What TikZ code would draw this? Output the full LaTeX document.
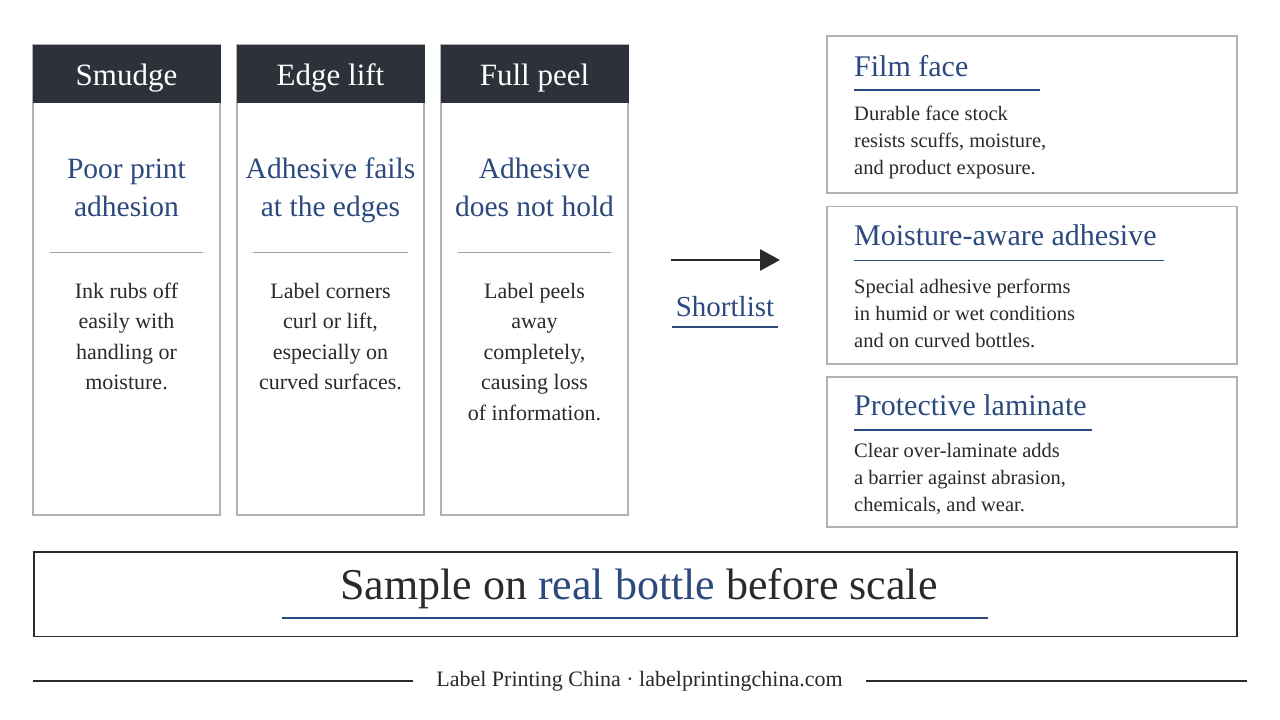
\documentclass[tikz,border=0pt]{standalone}
\usepackage{fontspec}
\setmainfont{Liberation Serif}
\usetikzlibrary{arrows.meta}
\definecolor{ink}{HTML}{2A2A2A}
\definecolor{navy}{HTML}{2C4A7E}
\definecolor{hdrfill}{HTML}{2D3139}
\definecolor{boxgray}{HTML}{B2B2B2}
\definecolor{sepgray}{HTML}{A0A0A0}
\begin{document}
\begin{tikzpicture}[x=1pt,y=-1pt,
  colbox/.style={draw=boxgray,line width=1.2pt,fill=white,minimum width=187pt,minimum height=470pt,inner sep=0pt},
  hdrbox/.style={fill=hdrfill,minimum width=188pt,minimum height=58pt,inner sep=0pt},
  hdrtext/.style={anchor=base,text=white,inner sep=0pt,font=\fontsize{31}{36}\selectfont},
  issue/.style={anchor=base,text=navy,align=center,inner sep=0pt,font=\fontsize{29.5}{38}\selectfont},
  colbody/.style={anchor=base,text=ink,align=center,inner sep=0pt,font=\fontsize{22}{30.5}\selectfont},
  sepline/.style={draw=sepgray,line width=1pt},
  optbox/.style={draw=boxgray,line width=1.2pt,fill=white,minimum width=410pt,inner sep=0pt},
  opttitle/.style={anchor=base west,text=navy,inner sep=0pt,font=\fontsize{30}{36}\selectfont},
  optbody/.style={anchor=base west,text=ink,align=left,inner sep=0pt,font=\fontsize{20.5}{27}\selectfont},
  navyline/.style={draw=navy,line width=1.3pt},
  arrowstyle/.style={draw=ink,line width=2.8pt,-{Triangle[length=20pt,width=21pt]}},
]
\useasboundingbox (0,0) rectangle (1280,720);
\fill[white] (0,0) rectangle (1280,720);

% ---- problem columns ----
\node[colbox] (col1) at (126.5,280) {};
\node[colbox] (col2) at (330.5,280) {};
\node[colbox] (col3) at (534.5,280) {};
\node[hdrbox] (hd1) at (126.5,74) {};
\node[hdrbox] (hd2) at (330.5,74) {};
\node[hdrbox] (hd3) at (534.5,74) {};
\node[hdrtext] (ht1) at (126.5,85) {Smudge};
\node[hdrtext] (ht2) at (330.5,85) {Edge lift};
\node[hdrtext] (ht3) at (534.5,85) {Full peel};

% anchor=base is the baseline of the last line
\node[issue] (is1) at (126.5,216) {Poor print\\adhesion};
\node[issue] (is2) at (330.5,216) {Adhesive fails\\at the edges};
\node[issue] (is3) at (534.5,216) {Adhesive\\does not hold};

\draw[sepline] (50,252.7) -- (203,252.7);
\draw[sepline] (253,252.7) -- (408,252.7);
\draw[sepline] (458,252.7) -- (611,252.7);

\node[colbody] (b1) at (126.5,389.5) {Ink rubs off\\easily with\\handling or\\moisture.};
\node[colbody] (b2) at (330.5,389.5) {Label corners\\curl or lift,\\especially on\\curved surfaces.};
\node[colbody] (b3) at (534.5,420) {Label peels\\away\\completely,\\causing loss\\of information.};

% ---- arrow and shortlist ----
\coordinate (arrS) at (671,260);
\coordinate (arrE) at (780,260);
\draw[arrowstyle] (arrS) -- (arrE);
\node[anchor=base,text=navy,inner sep=0pt,font=\fontsize{29}{34}\selectfont] (short) at (725,316) {Shortlist};
\draw[navyline] (672,327) -- (778,327);

% ---- option boxes ----
\node[optbox,minimum height=157pt] (opt1) at (1032,114.5) {};
\node[optbox,minimum height=157.5pt] (opt2) at (1032,285.3) {};
\node[optbox,minimum height=150pt] (opt3) at (1032,452) {};

\node[opttitle] (t1) at (854,76) {Film face};
\draw[navyline] (854,90) -- (1040,90);
\node[optbody] (d1) at (854,174) {Durable face stock\\resists scuffs, moisture,\\and product exposure.};

\node[opttitle] (t2) at (854,245) {Moisture-aware adhesive};
\draw[navyline] (854,260.7) -- (1164,260.7);
\node[optbody] (d2) at (854,347) {Special adhesive performs\\in humid or wet conditions\\and on curved bottles.};

\node[opttitle] (t3) at (854,415) {Protective laminate};
\draw[navyline] (854,430) -- (1092,430);
\node[optbody] (d3) at (854,511) {Clear over-laminate adds\\a barrier against abrasion,\\chemicals, and wear.};

% ---- bottom banner ----
\node[draw=ink,line width=1.6pt,fill=white,minimum width=1203pt,minimum height=84.5pt,inner sep=0pt] (banner) at (635.5,594.3) {};
\node[anchor=base,text=ink,inner sep=0pt,font=\fontsize{44}{50}\selectfont] (bantext) at (639,599) {Sample on \textcolor{navy}{real bottle} before scale};
\draw[navyline] (282,618) -- (988,618);

% ---- footer ----
\node[anchor=base,text=ink,inner sep=0pt,font=\fontsize{22}{26}\selectfont] (foot) at (639.5,686) {Label Printing China · labelprintingchina.com};
\draw[draw=ink,line width=1.3pt] (33,681) -- (413,681);
\draw[draw=ink,line width=1.3pt] (866,681) -- (1247,681);
\end{tikzpicture}
\end{document}
